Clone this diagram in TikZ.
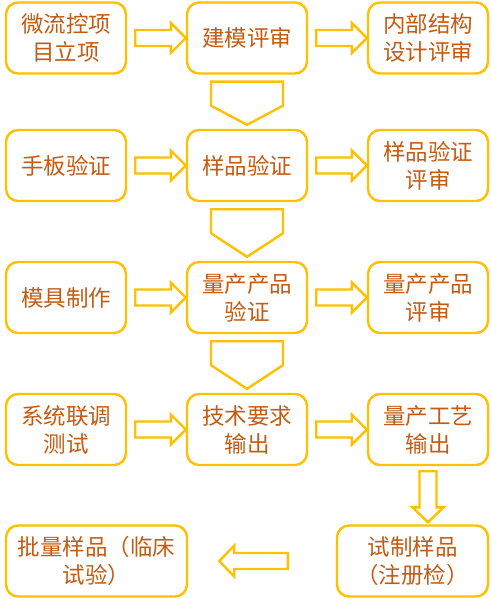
\documentclass[tikz,border=0pt]{standalone}
\usepackage{fontspec}
\newfontfamily\cjk{Noto Sans CJK SC}
\usepackage{xcolor}
\definecolor{boxgold}{HTML}{FFC000}
\definecolor{txtorange}{HTML}{C55A11}
\usetikzlibrary{calc,positioning}

\tikzset{
  box/.style={draw=boxgold, line width=2.4pt, rounded corners=12pt, fill=white,
    minimum width=120pt, minimum height=71pt, inner sep=0pt, align=center,
    text=txtorange, font=\cjk\fontsize{22.5}{28}\selectfont},
  blk/.style={draw=boxgold, line width=2.4pt, fill=white, line join=miter}
}

\begin{document}
\begin{tikzpicture}[x=1pt, y=-1pt]
    		\useasboundingbox (0,0) rectangle (490,599);

    		% Row 1
    		\node[box] (a1) at (66,38) {微流控项\\目立项};
    		\node[box] (b1) at (247,38) {建模评审};
    		\node[box] (c1) at (428,38) {内部结构\\设计评审};

    		% Row 2
    		\node[box] (a2) at (66,165.5) {手板验证};
    		\node[box] (b2) at (247,165.5) {样品验证};
    		\node[box] (c2) at (428,165.5) {样品验证\\评审};

    		% Row 3
    		\node[box] (a3) at (66,297.5) {模具制作};
    		\node[box] (b3) at (247,297.5) {量产产品\\验证};
    		\node[box] (c3) at (428,297.5) {量产产品\\评审};

    		% Row 4
    		\node[box] (a4) at (66,429.5) {系统联调\\测试};
    		\node[box] (b4) at (247,429.5) {技术要求\\输出};
    		\node[box] (c4) at (428,429.5) {量产工艺\\输出};

    		% Row 5
    		\node[box, minimum width=181pt] (a5) at (96.5,561) {批量样品（临床\\试验）};
    		\node[box, minimum width=151pt] (c5) at (412.5,561) {试制样品\\（注册检）};

    		% Block arrows to the right
    		\foreach \s/\t in {a1/b1, b1/c1, a2/b2, b2/c2, a3/b3, b3/c3, a4/b4, b4/c4}
    		  \draw[blk] ($(\s.east)+(8,-8)$) -- ($(\t.west)+(-15,-8)$) -- ($(\t.west)+(-15,-15)$)
    		    -- (\t.west) -- ($(\t.west)+(-15,15)$) -- ($(\t.west)+(-15,8)$)
    		    -- ($(\s.east)+(8,8)$) -- cycle;

    		% Wide chevrons down the middle column
    		\foreach \s/\t in {b1/b2, b2/b3, b3/b4}
    		  \draw[blk] ($(\s.south)+(-36,7)$) -- ($(\s.south)+(36,7)$) -- ($(\s.south)+(36,31)$)
    		    -- ($(\t.north)+(0,-4)$) -- ($(\s.south)+(-36,31)$) -- cycle;

    		% Down arrow on the right
    		\coordinate (tip) at ($(c4.south |- c5.north)+(0,-2)$);
    		\draw[blk] ($(c4.south)+(-8.5,5)$) -- ($(c4.south)+(8.5,5)$) -- ($(tip)+(8.5,-15)$)
    		  -- ($(tip)+(15.5,-15)$) -- (tip) -- ($(tip)+(-15.5,-15)$)
    		  -- ($(tip)+(-8.5,-15)$) -- cycle;

    		% Arrow to the left
    		\draw[blk] ($(c5.west)+(-48,-8)$) -- ($(a5.east)+(46,-8)$) -- ($(a5.east)+(46,-15.5)$)
    		  -- ($(a5.east)+(31,0)$) -- ($(a5.east)+(46,15.5)$) -- ($(a5.east)+(46,8)$)
    		  -- ($(c5.west)+(-48,8)$) -- cycle;
    	\end{tikzpicture}
\end{document}
